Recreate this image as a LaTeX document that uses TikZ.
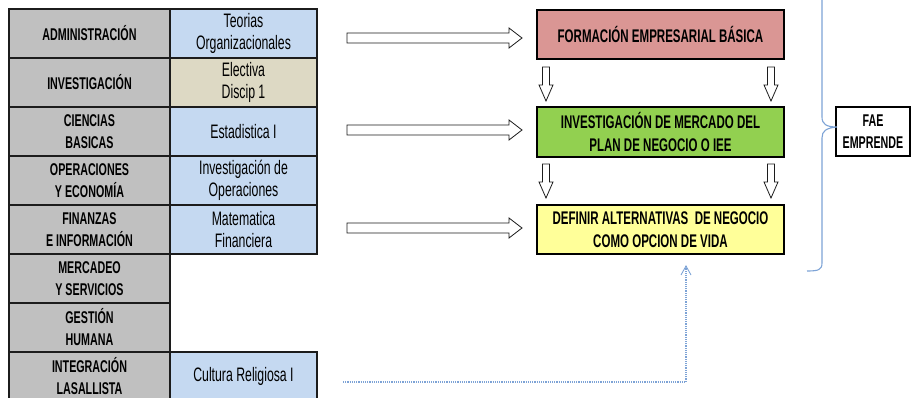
\documentclass[tikz,border=0pt]{standalone}
\usepackage{fontspec}
\setmainfont{Liberation Sans}[FakeStretch=0.63]
\definecolor{gridc}{RGB}{28,28,28}
\definecolor{lgray}{RGB}{192,192,192}
\definecolor{lblue}{RGB}{197,217,241}
\definecolor{ltan}{RGB}{221,217,196}
\definecolor{bpink}{RGB}{218,150,148}
\definecolor{bgreen}{RGB}{146,208,80}
\definecolor{byellow}{RGB}{255,255,153}
\definecolor{bracec}{RGB}{125,163,214}
\begin{document}
\begin{tikzpicture}[x=1pt,y=-1pt,
  cell/.style={draw=gridc,line width=1.6pt,inner sep=0pt,outer sep=0pt,minimum height=49pt,align=center,text=black},
  lcell/.style={cell,fill=lgray,minimum width=161pt,font=\bfseries\fontsize{17}{22}\selectfont},
  rcell/.style={cell,fill=lblue,minimum width=147pt,font=\fontsize{19.5}{22}\selectfont},
  bigbox/.style={draw=black,line width=1.6pt,inner sep=0pt,minimum width=247pt,align=center,font=\bfseries\fontsize{18.3}{23}\selectfont},
  blk/.style={draw=gridc,line width=0.8pt,fill=white},
  harrow/.pic={\draw[blk] (0,-5) -- (162,-5) -- (162,-10) -- (175,0) -- (162,10) -- (162,5) -- (0,5) -- cycle;},
  varrow/.pic={\draw[blk] (-3.5,0) -- (-3.5,18) -- (-7,18) -- (0,34) -- (7,18) -- (3.5,18) -- (3.5,0) -- cycle;}
]
\useasboundingbox (0,0) rectangle (911,398);

% left column
\node[lcell] (l1) at (89.5,33.5) {ADMINISTRACIÓN};
\node[lcell] (l2) at (89.5,82.5) {INVESTIGACIÓN};
\node[lcell] (l3) at (89.5,131.5) {CIENCIAS\\BASICAS};
\node[lcell] (l4) at (89.5,180.5) {OPERACIONES\\Y ECONOMÍA};
\node[lcell] (l5) at (89.5,229.5) {FINANZAS\\E INFORMACIÓN};
\node[lcell] (l6) at (89.5,278.5) {MERCADEO\\Y SERVICIOS};
\node[lcell] (l7) at (89.5,327.5) {GESTIÓN\\HUMANA};
\node[lcell] (l8) at (89.5,376.5) {INTEGRACIÓN\\LASALLISTA};

% right column
\node[rcell] (r1) at (243.5,33.5) {Teorias\\Organizacionales};
\node[rcell,fill=ltan] (r2) at (243.5,82.5) {Electiva\\Discip 1};
\node[rcell] (r3) at (243.5,131.5) {Estadistica I};
\node[rcell] (r4) at (243.5,180.5) {Investigación de\\Operaciones};
\node[rcell] (r5) at (243.5,229.5) {Matematica\\Financiera};
\node[rcell] (r8) at (243.5,376.5) {Cultura Religiosa I};

% right boxes
\node[bigbox,fill=bpink,minimum height=49pt] (b1) at (660.5,34.5) {FORMACIÓN EMPRESARIAL BÁSICA};
\node[bigbox,fill=bgreen,minimum height=50pt] (b2) at (660.5,132) {INVESTIGACIÓN DE MERCADO DEL\\PLAN DE NEGOCIO O IEE};
\node[bigbox,fill=byellow,minimum height=49pt] (b3) at (660.5,229.5) {DEFINIR ALTERNATIVAS\ \ DE NEGOCIO\\COMO OPCION DE VIDA};

\node[draw=black,line width=1.4pt,inner sep=0pt,minimum width=74pt,minimum height=49pt,align=center,font=\bfseries\fontsize{17}{22}\selectfont] (fae) at (873,131.5) {FAE\\EMPRENDE};

% block arrows
\pic at (347,38) {harrow};
\pic at (347,130) {harrow};
\pic at (347,228) {harrow};
\pic at (546,67) {varrow};
\pic at (771,67) {varrow};
\pic at (546,164) {varrow};
\pic at (771,164) {varrow};

% brace
\coordinate (bt) at (837,127);
\draw[bracec,line width=1.1pt] (822,-5) -- (822,117) .. controls (822,124) and (826,127) .. (bt)
  .. controls (826,128) and (822,131) .. (822,138) -- (822,263) .. controls (822,270) and (818,271) .. (807,271);

% dotted connector
\coordinate (ds) at (343,382);
\coordinate (dc) at (686,382);
\coordinate (de) at (686,266);
\draw[bracec,line width=1.2pt,densely dotted] (ds) -- (dc) -- (de);
\draw[bracec,line width=0.9pt] (681,275) -- (de) -- (691,275);
\end{tikzpicture}
\end{document}
